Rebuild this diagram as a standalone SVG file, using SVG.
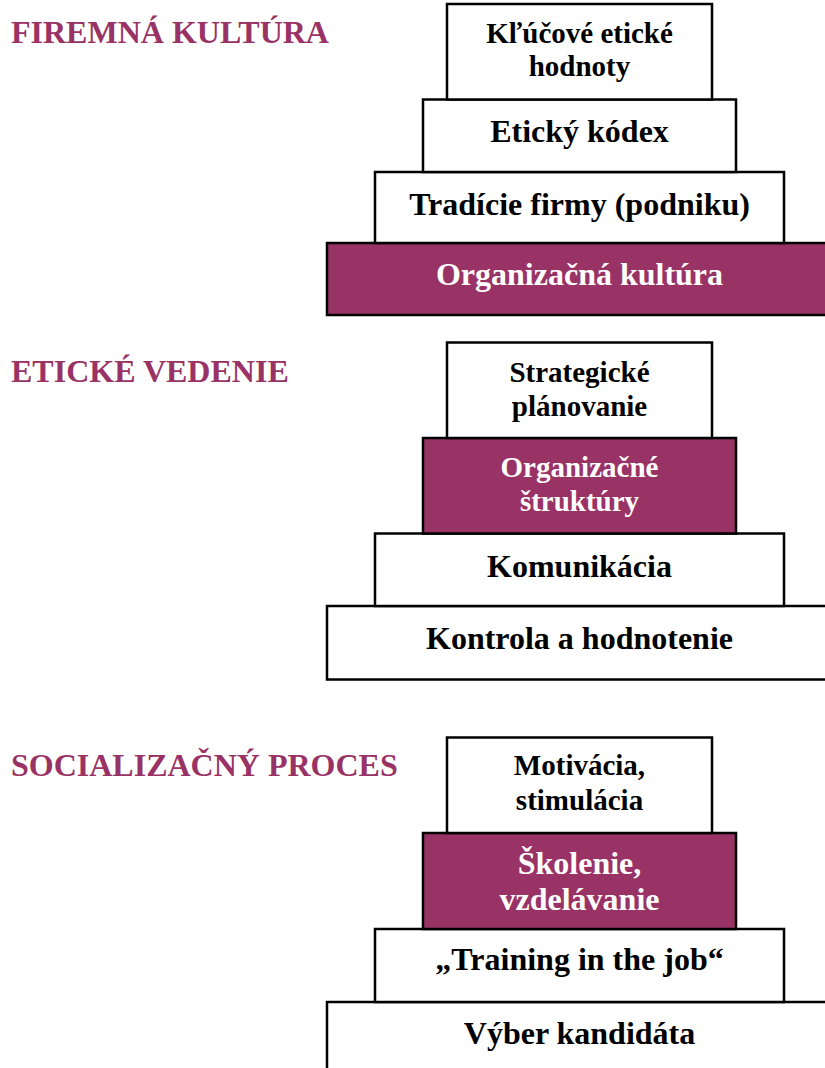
<svg xmlns="http://www.w3.org/2000/svg" width="825" height="1068" viewBox="0 0 825 1068">
  <style>
    .box { fill: #ffffff; stroke: #000000; stroke-width: 2.5; }
    .hi { fill: #993366; stroke: #000000; stroke-width: 2.5; }
    text { font-family: "Liberation Serif", "Times New Roman", serif; font-weight: bold; }
    .lbl { fill: #000000; font-size: 32px; text-anchor: middle; }
    .sm { font-size: 29px; }
    .inv { fill: #ffffff; }
    .title { fill: #993366; font-size: 32px; }
  </style>

  <!-- Section titles -->
  <text id="t1" class="title" x="11" y="42.5">FIREMNÁ KULTÚRA</text>
  <text id="t2" class="title" x="11" y="381.5">ETICKÉ VEDENIE</text>
  <text id="t3" class="title" x="11" y="776">SOCIALIZAČNÝ PROCES</text>

  <!-- Pyramid 1: firemná kultúra -->
  <g id="p1-base">
    <rect class="hi" x="327" y="243" width="510" height="72"/>
    <text class="lbl inv" x="579.5" y="285">Organizačná kultúra</text>
  </g>
  <g id="p1-tradicie">
    <rect class="box" x="375" y="172" width="409" height="71"/>
    <text class="lbl" x="579.5" y="215">Tradície firmy (podniku)</text>
  </g>
  <g id="p1-kodex">
    <rect class="box" x="423" y="99.5" width="313" height="72.5"/>
    <text class="lbl" x="579.5" y="142">Etický kódex</text>
  </g>
  <g id="p1-hodnoty">
    <rect class="box" x="447" y="4" width="265" height="95.5"/>
    <text class="lbl sm" x="579.5" y="42.5">Kľúčové etické</text>
    <text class="lbl sm" x="579.5" y="76">hodnoty</text>
  </g>

  <!-- Pyramid 2: etické vedenie -->
  <g id="p2-kontrola">
    <rect class="box" x="327" y="606" width="510" height="73.5"/>
    <text class="lbl" x="579.5" y="648.5">Kontrola a hodnotenie</text>
  </g>
  <g id="p2-komunikacia">
    <rect class="box" x="375" y="533.5" width="409" height="72.5"/>
    <text class="lbl" x="579.5" y="577">Komunikácia</text>
  </g>
  <g id="p2-struktury">
    <rect class="hi" x="423" y="438" width="313" height="95.5"/>
    <text class="lbl sm inv" x="579.5" y="477">Organizačné</text>
    <text class="lbl sm inv" x="579.5" y="511">štruktúry</text>
  </g>
  <g id="p2-planovanie">
    <rect class="box" x="447" y="342.5" width="265" height="95.5"/>
    <text class="lbl sm" x="579.5" y="382">Strategické</text>
    <text class="lbl sm" x="579.5" y="416">plánovanie</text>
  </g>

  <!-- Pyramid 3: socializačný proces -->
  <g id="p3-vyber">
    <rect class="box" x="327" y="1002" width="510" height="80"/>
    <text class="lbl" x="579.5" y="1043.5">Výber kandidáta</text>
  </g>
  <g id="p3-training">
    <rect class="box" x="375" y="929" width="409" height="73"/>
    <text class="lbl" x="579.5" y="970">„Training in the job“</text>
  </g>
  <g id="p3-skolenie">
    <rect class="hi" x="423" y="833" width="313" height="96"/>
    <text class="lbl inv" x="579.5" y="874">Školenie,</text>
    <text class="lbl inv" x="579.5" y="910">vzdelávanie</text>
  </g>
  <g id="p3-motivacia">
    <rect class="box" x="447" y="737.5" width="265" height="95.5"/>
    <text class="lbl sm" x="579.5" y="775">Motivácia,</text>
    <text class="lbl sm" x="579.5" y="810">stimulácia</text>
  </g>
</svg>
